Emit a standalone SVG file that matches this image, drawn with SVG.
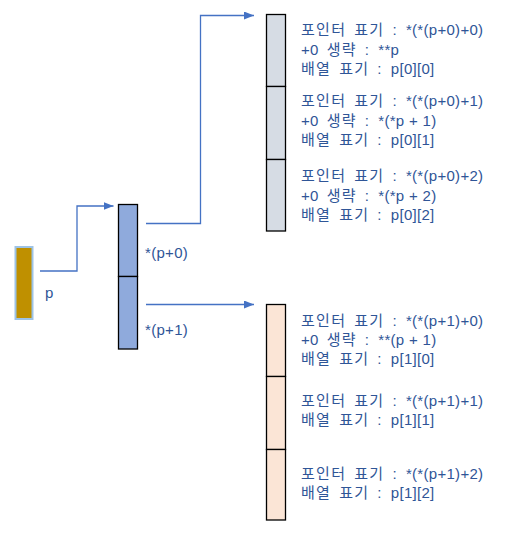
<svg xmlns="http://www.w3.org/2000/svg" width="510" height="534" viewBox="0 0 510 534">
  <style>
    .t { font-family: "Liberation Sans", "Noto Sans CJK KR", sans-serif; font-size: 15px; fill: #2F5597; letter-spacing: 0.3px; white-space: pre; }
    .k { letter-spacing: 1.3px; word-spacing: 2.5px; }
    .cell { stroke: #000000; stroke-width: 1.3; }
    .mid { fill: #8FAADC; }
    .r0 { fill: #D6DCE4; }
    .r1 { fill: #FBE5D6; }
    .conn { fill: none; stroke: #4472C4; stroke-width: 1.3; }
  </style>
  <defs>
    <marker id="arrow" markerUnits="userSpaceOnUse" markerWidth="11" markerHeight="9" refX="10" refY="4" orient="auto">
      <path d="M0,0 L10,4 L0,8 Z" fill="#4472C4"/>
    </marker>
  </defs>
  <rect width="510" height="534" fill="#FFFFFF"/>

  <g id="connectors">
    <path class="conn" d="M40,271 H77 V206 H113.5" marker-end="url(#arrow)"/>
    <path class="conn" d="M146,223.5 H200.5 V15.5 H254" marker-end="url(#arrow)"/>
    <path class="conn" d="M146,304.5 H254" marker-end="url(#arrow)"/>
  </g>

  <g id="node-p">
    <rect x="15.5" y="247" width="17" height="72" fill="#BF9000" stroke="#9DC3E6" stroke-width="2"/>
    <text class="t" x="45" y="298">p</text>
  </g>

  <g id="node-p0">
    <rect class="cell mid" x="118.5" y="204.5" width="19" height="72"/>
    <text class="t" x="145" y="257.5">*(p+0)</text>
  </g>
  <g id="node-p1">
    <rect class="cell mid" x="118.5" y="276.5" width="19" height="72.5"/>
    <text class="t" x="145" y="334.5">*(p+1)</text>
  </g>

  <g id="node-00">
    <rect class="cell r0" x="266.5" y="14.5" width="19" height="72"/>
    <text class="t" x="301" y="35"><tspan class="k">포인터 표기 : </tspan>*(*(p+0)+0)</text>
    <text class="t" x="301" y="54.5">+0<tspan class="k"> 생략 : </tspan>**p</text>
    <text class="t" x="301" y="74"><tspan class="k">배열 표기 : </tspan>p[0][0]</text>
  </g>
  <g id="node-01">
    <rect class="cell r0" x="266.5" y="86.5" width="19" height="73"/>
    <text class="t" x="301" y="106"><tspan class="k">포인터 표기 : </tspan>*(*(p+0)+1)</text>
    <text class="t" x="301" y="125.5">+0<tspan class="k"> 생략 : </tspan>*(*p + 1)</text>
    <text class="t" x="301" y="145"><tspan class="k">배열 표기 : </tspan>p[0][1]</text>
  </g>
  <g id="node-02">
    <rect class="cell r0" x="266.5" y="159.5" width="19" height="71.5"/>
    <text class="t" x="301" y="181"><tspan class="k">포인터 표기 : </tspan>*(*(p+0)+2)</text>
    <text class="t" x="301" y="200.5">+0<tspan class="k"> 생략 : </tspan>*(*p + 2)</text>
    <text class="t" x="301" y="220"><tspan class="k">배열 표기 : </tspan>p[0][2]</text>
  </g>

  <g id="node-10">
    <rect class="cell r1" x="266.5" y="304.5" width="19" height="72"/>
    <text class="t" x="301" y="326"><tspan class="k">포인터 표기 : </tspan>*(*(p+1)+0)</text>
    <text class="t" x="301" y="345">+0<tspan class="k"> 생략 : </tspan>**(p + 1)</text>
    <text class="t" x="301" y="364"><tspan class="k">배열 표기 : </tspan>p[1][0]</text>
  </g>
  <g id="node-11">
    <rect class="cell r1" x="266.5" y="376.5" width="19" height="73"/>
    <text class="t" x="301" y="406"><tspan class="k">포인터 표기 : </tspan>*(*(p+1)+1)</text>
    <text class="t" x="301" y="425"><tspan class="k">배열 표기 : </tspan>p[1][1]</text>
  </g>
  <g id="node-12">
    <rect class="cell r1" x="266.5" y="449.5" width="19" height="70.5"/>
    <text class="t" x="301" y="479"><tspan class="k">포인터 표기 : </tspan>*(*(p+1)+2)</text>
    <text class="t" x="301" y="498"><tspan class="k">배열 표기 : </tspan>p[1][2]</text>
  </g>
</svg>
